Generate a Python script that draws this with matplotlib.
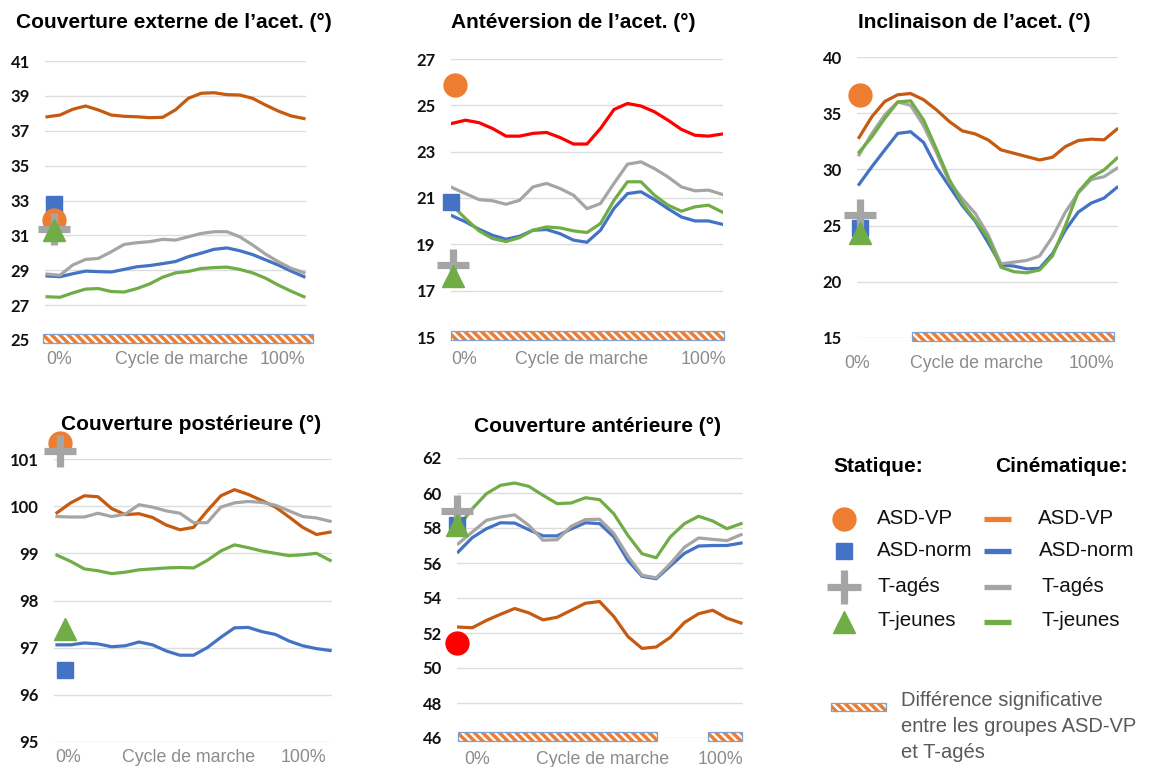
import matplotlib
matplotlib.use('Agg')
import matplotlib.pyplot as plt
from matplotlib.patches import Rectangle
from matplotlib.transforms import blended_transform_factory

plt.rcParams['hatch.linewidth'] = 2.5

# ---------------- DATA ----------------
cycle = [0, 5, 10, 15, 20, 25, 30, 35, 40, 45, 50, 55, 60, 65, 70, 75, 80, 85, 90, 95, 100]
groups = ["ASD-VP", "ASD-norm", "T-agés", "T-jeunes"]

# Couverture externe de l'acet.
ext_vp = [37.8, 37.9, 38.23, 38.42, 38.19, 37.9, 37.83, 37.8, 37.75, 37.77, 38.2, 38.86, 39.15, 39.18, 39.07, 39.05, 38.86, 38.48, 38.13, 37.85, 37.7]
ext_norm = [28.67, 28.63, 28.8, 28.95, 28.92, 28.9, 29.05, 29.2, 29.27, 29.38, 29.5, 29.78, 29.98, 30.2, 30.28, 30.12, 29.9, 29.6, 29.3, 28.95, 28.63]
ext_ages = [28.78, 28.71, 29.3, 29.62, 29.68, 30.06, 30.48, 30.58, 30.64, 30.77, 30.73, 30.92, 31.11, 31.21, 31.21, 30.92, 30.45, 29.93, 29.49, 29.11, 28.86]
ext_jeunes = [27.48, 27.45, 27.7, 27.92, 27.95, 27.78, 27.75, 27.95, 28.22, 28.6, 28.85, 28.93, 29.1, 29.15, 29.18, 29.05, 28.85, 28.55, 28.15, 27.8, 27.48]
ext_static = [31.88, 32.8, 31.34, 31.3]
ext_sig = [(-1.6, 103.5)]

# Antéversion de l'acet.
antev_vp = [24.22, 24.36, 24.25, 24.0, 23.67, 23.67, 23.79, 23.83, 23.61, 23.33, 23.33, 24.0, 24.82, 25.08, 24.97, 24.72, 24.36, 23.96, 23.71, 23.67, 23.76]
antev_norm = [20.23, 19.97, 19.65, 19.39, 19.22, 19.35, 19.61, 19.64, 19.46, 19.18, 19.09, 19.61, 20.55, 21.19, 21.27, 20.93, 20.54, 20.18, 20.01, 20.01, 19.87]
antev_ages = [21.45, 21.19, 20.93, 20.88, 20.73, 20.9, 21.48, 21.63, 21.41, 21.12, 20.54, 20.76, 21.63, 22.46, 22.56, 22.27, 21.91, 21.48, 21.31, 21.34, 21.16]
antev_jeunes = [20.69, 20.11, 19.58, 19.25, 19.12, 19.29, 19.61, 19.75, 19.71, 19.58, 19.51, 19.9, 20.9, 21.7, 21.7, 21.12, 20.69, 20.43, 20.62, 20.69, 20.4]
antev_static = [25.88, 20.83, 18.12, 17.65]
antev_sig = [(-0.4, 100.7)]

# Inclinaison de l'acet.
incl_vp = [32.84, 34.7, 36.05, 36.64, 36.75, 36.2, 35.3, 34.26, 33.43, 33.16, 32.63, 31.74, 31.44, 31.14, 30.84, 31.08, 32.03, 32.57, 32.69, 32.63, 33.58]
incl_norm = [28.67, 30.25, 31.74, 33.2, 33.35, 32.4, 30.2, 28.5, 26.8, 25.4, 23.5, 21.5, 21.4, 21.15, 21.2, 22.5, 24.6, 26.2, 27.0, 27.45, 28.4]
incl_ages = [31.29, 33.2, 34.85, 36.0, 35.7, 33.9, 31.5, 28.9, 27.4, 26.1, 24.2, 21.6, 21.75, 21.9, 22.3, 24.0, 26.2, 27.9, 29.1, 29.35, 30.1]
incl_jeunes = [31.53, 32.9, 34.55, 36.0, 36.1, 34.4, 31.8, 29.1, 27.0, 25.5, 23.9, 21.3, 20.9, 20.8, 21.05, 22.3, 25.0, 28.0, 29.3, 29.95, 31.0]
incl_static = [36.58, 24.8, 25.94, 24.36]
incl_sig = [(20.5, 98.8)]

# Couverture postérieure
post_vp = [99.86, 100.07, 100.22, 100.2, 99.95, 99.82, 99.84, 99.76, 99.6, 99.5, 99.55, 99.9, 100.22, 100.35, 100.25, 100.12, 99.98, 99.77, 99.55, 99.4, 99.45]
post_norm = [97.06, 97.06, 97.1, 97.08, 97.02, 97.04, 97.12, 97.06, 96.93, 96.84, 96.84, 97.0, 97.22, 97.42, 97.43, 97.34, 97.28, 97.14, 97.04, 96.98, 96.94]
post_ages = [99.78, 99.77, 99.77, 99.85, 99.78, 99.83, 100.03, 99.98, 99.9, 99.85, 99.65, 99.65, 99.98, 100.07, 100.1, 100.08, 100.02, 99.9, 99.78, 99.75, 99.68]
post_jeunes = [98.96, 98.83, 98.67, 98.63, 98.57, 98.6, 98.65, 98.67, 98.69, 98.7, 98.69, 98.85, 99.05, 99.18, 99.12, 99.05, 99.0, 98.95, 98.97, 99.0, 98.85]
post_static = [101.34, 96.52, 101.16, 97.4]
post_sig = []

# Couverture antérieure
ant_vp = [52.34, 52.3, 52.72, 53.07, 53.4, 53.15, 52.75, 52.9, 53.3, 53.7, 53.8, 52.95, 51.8, 51.12, 51.2, 51.75, 52.6, 53.1, 53.3, 52.85, 52.57]
ant_norm = [56.63, 57.45, 57.96, 58.3, 58.28, 57.9, 57.55, 57.55, 57.95, 58.3, 58.25, 57.5, 56.15, 55.24, 55.1, 55.83, 56.55, 56.97, 57.0, 57.0, 57.14]
ant_ages = [57.1, 57.77, 58.44, 58.63, 58.75, 58.15, 57.3, 57.33, 58.1, 58.48, 58.5, 57.7, 56.4, 55.3, 55.15, 55.96, 56.9, 57.43, 57.35, 57.28, 57.62]
ant_jeunes = [58.06, 59.1, 59.96, 60.44, 60.57, 60.38, 59.87, 59.39, 59.43, 59.73, 59.62, 58.82, 57.58, 56.53, 56.3, 57.49, 58.25, 58.67, 58.4, 57.96, 58.25]
ant_static = [51.43, 58.2, 59.0, 58.15]
ant_sig = [(0, 70.3), (88.3, 100.4)]

# ---------------- STYLE ----------------
W, H = 1150, 767
C_VP_LINE = '#C55A11'
C_VP_MARK = '#ED7D31'
C_RED = '#FF0000'
C_BLUE = '#4472C4'
C_GRAY = '#A5A5A5'
C_GREEN = '#70AD47'
TXT_GRAY = '#8C8C8C'
HATCH = '\\\\\\\\'

fig = plt.figure(figsize=(W / 100, H / 100), dpi=100)
fig.patch.set_facecolor('white')


def rect(x0, x1, ytop, ybot):
    return [x0 / W, 1 - ybot / H, (x1 - x0) / W, (ybot - ytop) / H]


panels = [
    dict(title="Couverture externe de l’acet. (°)", title_xy=(174, 22),
         series=[ext_vp, ext_norm, ext_ages, ext_jeunes], static=ext_static, sig=ext_sig,
         yticks=list(range(25, 42, 2)), box=(45, 306, 61, 340), xlim=(-0.8, 100.8),
         vp_line=C_VP_LINE, vp_mark=C_VP_MARK, sx=[2.7, 2.7, 2.7, 2.7],
         xl=(59, 182, 282, 360)),
    dict(title="Antéversion de l’acet. (°)", title_xy=(573, 23),
         series=[antev_vp, antev_norm, antev_ages, antev_jeunes], static=antev_static, sig=antev_sig,
         yticks=list(range(15, 28, 2)), box=(451, 723, 59, 337), xlim=(-0.4, 100.4),
         vp_line=C_RED, vp_mark=C_VP_MARK, sx=[1.1, -0.4, 0.2, 0.4],
         xl=(464, 582, 703, 360)),
    dict(title="Inclinaison de l’acet. (°)", title_xy=(974, 23),
         series=[incl_vp, incl_norm, incl_ages, incl_jeunes], static=incl_static, sig=incl_sig,
         yticks=list(range(15, 41, 5)), box=(857, 1118, 57, 338), xlim=(-0.8, 100.4),
         vp_line=C_VP_LINE, vp_mark=C_VP_MARK, sx=[0.4, 0.4, 0.4, 0.4],
         xl=(857, 977, 1091, 363)),
    dict(title="Couverture postérieure (°)", title_xy=(191, 425),
         series=[post_vp, post_norm, post_ages, post_jeunes], static=post_static, sig=post_sig,
         yticks=list(range(95, 102, 1)), box=(54, 332, 459, 742), xlim=(-1.1, 100.7),
         vp_line=C_VP_LINE, vp_mark=C_VP_MARK, sx=[1.1, 2.9, 1.1, 2.9],
         xl=(68, 189, 303, 758)),
    dict(title="Couverture antérieure (°)", title_xy=(597, 426),
         series=[ant_vp, ant_norm, ant_ages, ant_jeunes], static=ant_static, sig=ant_sig,
         yticks=list(range(46, 63, 2)), box=(457, 743, 458, 738), xlim=(-0.4, 100.7),
         vp_line=C_VP_LINE, vp_mark=C_RED, sx=[-0.3, -0.3, -0.3, -0.3],
         xl=(477, 603, 720, 760)),
]

# overlay axes in pixel coordinates for texts and legend
lax = fig.add_axes([0, 0, 1, 1], zorder=5)
lax.set_xlim(0, W)
lax.set_ylim(H, 0)
lax.axis('off')
lax.patch.set_alpha(0)

for p in panels:
    x0, x1, yt, yb = p['box']
    ax = fig.add_axes(rect(x0, x1, yt, yb))
    ax.set_xlim(*p['xlim'])
    ax.set_ylim(p['yticks'][0], p['yticks'][-1])
    ax.set_yticks(p['yticks'])
    ax.set_yticklabels([str(t) for t in p['yticks']], fontfamily='Lato', fontweight='bold',
                       fontsize=12, color='#111111')
    ax.set_xticks([])
    ax.tick_params(axis='y', length=0, pad=11)
    for s in ax.spines.values():
        s.set_visible(False)
    ax.yaxis.grid(True, color='#DDDDDD', lw=1.0)
    ax.set_axisbelow(True)
    ax.patch.set_alpha(0)

    vp, norm, ages, jeunes = p['series']
    ax.plot(cycle, vp, color=p['vp_line'], lw=2.3, zorder=3, solid_joinstyle='round')
    ax.plot(cycle, norm, color=C_BLUE, lw=2.3, zorder=3, solid_joinstyle='round')
    ax.plot(cycle, ages, color=C_GRAY, lw=2.3, zorder=3, solid_joinstyle='round')
    ax.plot(cycle, jeunes, color=C_GREEN, lw=2.3, zorder=3, solid_joinstyle='round')

    s_vp, s_norm, s_ages, s_jeunes = p['static']
    sx = p['sx']
    ax.plot([sx[1]], [s_norm], marker='s', ms=11.5, color=C_BLUE, ls='none', zorder=5, clip_on=False)
    ax.plot([sx[0]], [s_vp], marker='o', ms=16.5, color=p['vp_mark'], ls='none', zorder=6, clip_on=False)
    ax.plot([sx[2]], [s_ages], marker='+', ms=23, mew=5.2, color=C_GRAY, ls='none', zorder=7, clip_on=False)
    ax.plot([sx[3]], [s_jeunes], marker='^', ms=16.5, color=C_GREEN, ls='none', zorder=8, clip_on=False)

    axh = yb - yt
    tr = blended_transform_factory(ax.transData, ax.transAxes)
    for (a, b) in p['sig']:
        ax.add_patch(Rectangle((a, -3 / axh), b - a, 9 / axh, transform=tr, facecolor='white',
                               edgecolor=C_VP_MARK, lw=0, hatch=HATCH, clip_on=False, zorder=4))
        ax.add_patch(Rectangle((a, -3 / axh), b - a, 9 / axh, transform=tr, fill=False,
                               edgecolor='#7F9FD6', lw=0.9, clip_on=False, zorder=4))

    tx, ty = p['title_xy']
    lax.text(tx, ty, p['title'], ha='center', va='center', fontfamily='Liberation Sans',
             fontweight='bold', fontsize=15, color='black')
    a0, am, a1, ly = p['xl']
    for xx, s in [(a0, '0%'), (am, 'Cycle de marche'), (a1, '100%')]:
        lax.text(xx, ly, s, ha='center', va='center', fontfamily='Liberation Sans',
                 fontsize=12.8, color=TXT_GRAY)

# ---------------- LEGEND ----------------
lf = dict(fontfamily='Liberation Sans', va='center')
lax.text(833, 467, 'Statique:', fontweight='bold', fontsize=15, color='black', **lf)
lax.text(995, 467, 'Cinématique:', fontweight='bold', fontsize=15, color='black', **lf)
rows = [519, 551, 587, 622]
lax.plot([844], [rows[0]], marker='o', ms=16.5, color=C_VP_MARK, ls='none')
lax.plot([844], [rows[1]], marker='s', ms=11.5, color=C_BLUE, ls='none')
lax.plot([844], [rows[2]], marker='+', ms=24, mew=5.2, color=C_GRAY, ls='none')
lax.plot([844], [rows[3]], marker='^', ms=16.5, color=C_GREEN, ls='none')
line_cols = [C_VP_MARK, C_BLUE, C_GRAY, C_GREEN]
text_x2 = [1038, 1039, 1041, 1041]
for i, g in enumerate(groups):
    lax.text(877, rows[i] - 1, g, fontsize=14.8, color='#111111', **lf)
    lax.plot([984, 1011], [rows[i], rows[i]], color=line_cols[i], lw=3.8, solid_capstyle='butt')
    lax.text(text_x2[i], rows[i] - 1, g, fontsize=14.8, color='#111111', **lf)

lax.add_patch(Rectangle((831, 703), 55, 8, facecolor='white', edgecolor=C_VP_MARK, lw=0, hatch=HATCH))
lax.add_patch(Rectangle((831, 703), 55, 8, fill=False, edgecolor='#7F9FD6', lw=0.9))
for yy, s in zip([701, 727, 752], ['Différence significative', 'entre les groupes ASD-VP', 'et T-agés']):
    lax.text(901, yy, s, fontsize=14.5, color='#595959', **lf)

fig.savefig('out.png', dpi=100, facecolor='white')
